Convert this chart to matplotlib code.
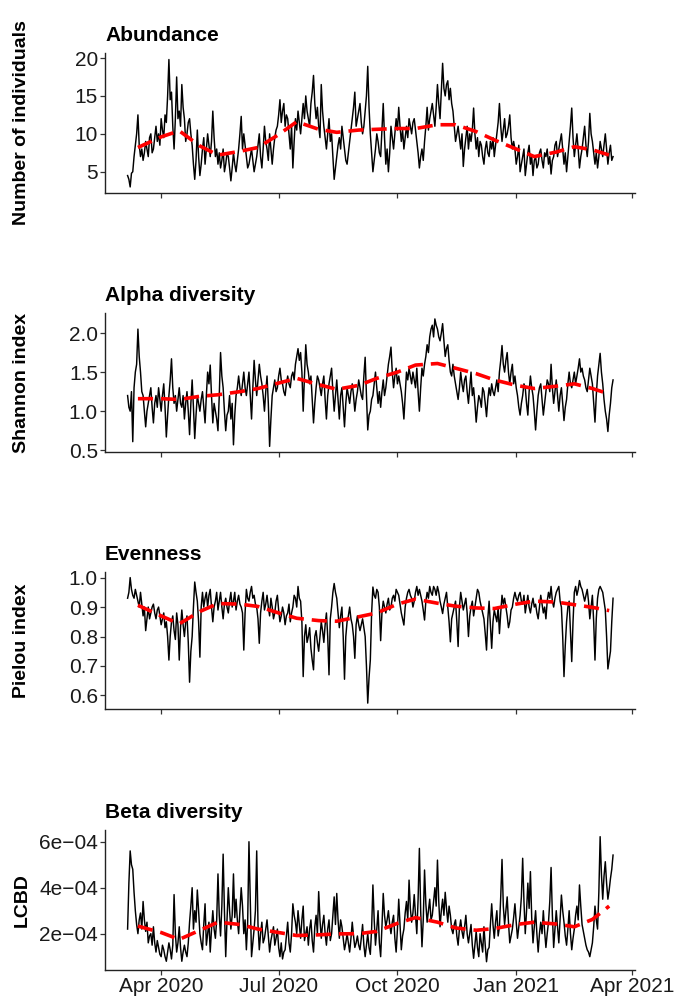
import numpy as np
import pandas as pd
import matplotlib
matplotlib.use('Agg')
import matplotlib.pyplot as plt
import matplotlib.dates as mdates
from matplotlib.ticker import FuncFormatter

plt.rcParams['font.family'] = ['Liberation Sans', 'DejaVu Sans']

###########################################################################
# 1. Data: daily values from 6 Mar 2020.
#    *_even are days 0, 2, 4, ... ; *_odd are days 1, 3, 5, ...
###########################################################################
start_date = '2020-03-06'

abundance_even = [
    4.5, 3.0, 5.0, 8.5, 12.5, 7.0, 6.5, 9.0, 7.0, 10.0,
    8.0, 11.0, 10.0, 12.0, 9.5, 11.5, 19.8, 15.5, 8.0, 17.5,
    13.0, 16.5, 12.0, 10.0, 12.0, 8.5, 4.0, 10.5, 4.5, 8.0,
    6.0, 10.0, 7.0, 13.0, 7.0, 6.0, 5.5, 8.0, 6.0, 7.0,
    3.8, 7.5, 5.0, 8.0, 12.3, 10.0, 7.0, 6.0, 8.0, 5.0,
    7.0, 10.0, 5.5, 11.0, 8.0, 10.0, 6.0, 9.5, 11.0, 14.5,
    13.0, 11.0, 12.0, 8.0, 5.5, 12.0, 13.0, 10.0, 14.0, 15.0,
    12.0, 14.0, 17.7, 12.0, 11.0, 16.5, 11.0, 8.0, 12.0, 10.0,
    4.0, 7.0, 9.5, 11.0, 8.0, 6.0, 9.0, 12.0, 15.5, 12.0,
    14.0, 10.0, 13.0, 18.9, 10.0, 5.0, 8.0, 9.0, 7.0, 14.0,
    6.0, 5.0, 11.0, 8.0, 12.0, 13.5, 9.0, 8.0, 11.0, 12.0,
    10.0, 12.0, 9.0, 5.5, 8.0, 9.0, 13.5, 12.0, 14.0, 11.0,
    16.5, 12.0, 19.3, 15.0, 17.0, 16.0, 13.0, 9.0, 11.0, 8.0,
    5.7, 9.5, 8.0, 9.0, 13.4, 8.0, 7.0, 8.5, 6.0, 9.0,
    7.0, 8.0, 7.0, 10.0, 14.0, 9.0, 12.0, 10.0, 12.5, 8.0,
    8.0, 7.0, 5.0, 7.0, 4.5, 7.5, 6.0, 4.5, 7.0, 6.0,
    8.0, 5.5, 7.0, 6.0, 4.7, 7.0, 9.0, 8.0, 10.0, 6.0,
    5.0, 9.0, 13.4, 7.0, 10.0, 5.5, 8.0, 11.0, 7.0, 12.7,
    9.0, 6.0, 5.5, 9.0, 7.0, 10.0, 6.0, 8.5, 7.0]
abundance_odd = [
    4.0, 4.8, 7.0, 10.0, 8.5, 8.0, 7.5, 8.0, 9.5, 7.5,
    9.5, 9.0, 8.5, 10.5, 12.5, 15.0, 14.5, 11.0, 12.0, 12.0,
    11.0, 13.5, 9.0, 11.5, 10.0, 6.0, 6.5, 7.0, 6.0, 9.5,
    8.0, 8.5, 9.0, 9.5, 8.0, 7.5, 6.5, 5.0, 7.5, 5.5,
    5.5, 6.0, 6.5, 10.0, 8.0, 8.5, 5.5, 7.0, 6.5, 6.0,
    8.5, 7.0, 8.0, 9.0, 6.5, 8.0, 8.0, 10.5, 12.5, 11.5,
    14.0, 12.5, 10.0, 11.0, 9.0, 10.5, 11.5, 12.0, 12.0, 13.0,
    11.0, 15.5, 14.0, 13.5, 9.5, 13.0, 9.5, 10.0, 9.0, 7.0,
    5.5, 8.5, 8.0, 9.5, 6.5, 7.5, 10.5, 13.5, 11.0, 13.0,
    11.5, 11.0, 15.0, 13.5, 7.5, 6.5, 10.0, 7.5, 10.5, 9.5,
    8.0, 7.5, 9.5, 10.0, 10.5, 11.0, 10.5, 9.5, 9.5, 11.0,
    11.5, 10.5, 7.5, 7.0, 6.5, 11.0, 10.5, 13.0, 12.5, 13.5,
    14.0, 15.5, 16.0, 16.5, 14.5, 14.0, 11.0, 10.0, 9.5, 10.0,
    8.0, 11.0, 10.0, 10.5, 10.0, 9.5, 9.0, 7.0, 8.0, 7.5,
    9.0, 9.5, 8.5, 11.5, 11.0, 10.5, 9.5, 11.0, 9.5, 9.0,
    6.0, 8.5, 6.0, 8.0, 6.0, 8.5, 7.0, 6.5, 5.5, 7.5,
    6.5, 7.5, 8.0, 7.0, 6.5, 8.5, 7.0, 9.0, 8.0, 7.5,
    7.0, 11.0, 9.5, 8.5, 8.0, 7.0, 9.5, 8.5, 9.0, 10.0,
    7.5, 7.5, 7.0, 8.0, 8.5, 8.0, 7.5, 6.5]

shannon_even = [
    1.2, 1.0, 0.61, 1.5, 2.05, 1.5, 1.2, 0.8, 1.1, 1.3,
    0.85, 1.2, 1.3, 1.0, 1.35, 0.67, 1.2, 1.67, 1.1, 1.0,
    1.3, 1.05, 0.9, 1.25, 0.7, 1.4, 0.65, 1.2, 1.0, 1.25,
    0.85, 1.5, 1.59, 0.85, 1.0, 0.75, 1.75, 1.3, 0.75, 1.0,
    0.9, 0.57, 1.2, 1.45, 1.2, 1.5, 1.2, 1.5, 0.9, 1.65,
    1.2, 1.6, 1.35, 1.0, 1.45, 0.55, 1.2, 1.4, 1.3, 1.55,
    1.35, 1.2, 1.45, 1.3, 1.5, 1.6, 1.8, 1.75, 1.0, 1.85,
    1.5, 1.45, 0.85, 1.3, 1.4, 1.2, 1.45, 0.9, 1.35, 1.55,
    1.0, 1.4, 0.9, 1.3, 0.8, 1.3, 1.1, 1.35, 1.0, 1.25,
    1.3, 1.15, 1.69, 0.76, 1.0, 1.2, 1.5, 1.1, 1.05, 1.4,
    1.3, 1.6, 1.82, 1.3, 1.55, 1.45, 1.25, 0.9, 1.5, 1.55,
    1.35, 1.4, 1.55, 1.0, 1.55, 1.6, 1.85, 1.95, 2.1, 2.18,
    2.05, 1.9, 2.12, 1.7, 1.85, 1.5, 1.6, 1.35, 1.15, 1.5,
    1.25, 1.45, 1.1, 1.5, 1.3, 0.86, 1.2, 1.05, 1.25, 0.93,
    1.3, 1.35, 1.2, 1.4, 1.5, 1.84, 1.5, 1.75, 1.35, 1.6,
    1.45, 1.2, 0.95, 1.2, 1.3, 0.95, 1.45, 1.2, 0.76, 1.2,
    1.35, 0.95, 1.25, 1.35, 1.6, 1.1, 1.4, 1.0, 1.3, 0.88,
    1.15, 1.5, 1.3, 1.5, 1.45, 1.67, 1.55, 1.4, 1.25, 1.55,
    1.35, 0.86, 1.45, 1.74, 1.35, 1.0, 0.74, 1.1, 1.4]
shannon_odd = [
    1.05, 1.25, 1.3, 1.6, 1.7, 1.25, 1.0, 1.0, 1.2, 1.05,
    1.1, 1.05, 1.15, 1.2, 1.05, 0.95, 1.4, 1.3, 1.2, 1.15,
    1.1, 1.2, 1.1, 1.0, 1.1, 1.05, 0.95, 1.1, 1.15, 1.05,
    1.2, 1.35, 1.2, 1.1, 0.9, 1.2, 1.45, 1.0, 0.95, 1.2,
    1.1, 0.95, 1.3, 1.3, 1.35, 1.3, 1.35, 1.2, 1.3, 1.4,
    1.4, 1.45, 1.2, 1.25, 1.1, 0.9, 1.3, 1.25, 1.45, 1.4,
    1.25, 1.35, 1.35, 1.45, 1.4, 1.7, 1.65, 1.5, 1.45, 1.6,
    1.35, 1.15, 1.1, 1.45, 1.3, 1.35, 1.15, 1.2, 1.45, 1.25,
    1.2, 1.15, 1.2, 1.05, 1.1, 1.2, 1.25, 1.2, 1.15, 1.4,
    1.2, 1.45, 1.2, 0.95, 1.15, 1.35, 1.3, 1.25, 1.25, 1.2,
    1.45, 1.7, 1.5, 1.45, 1.35, 1.35, 1.1, 1.2, 1.4, 1.45,
    1.5, 1.3, 1.25, 1.3, 1.45, 1.7, 1.75, 2.05, 1.95, 2.1,
    1.95, 2.0, 1.9, 1.8, 1.65, 1.45, 1.45, 1.25, 1.3, 1.35,
    1.4, 1.25, 1.3, 1.2, 1.1, 1.05, 1.15, 1.3, 1.1, 1.15,
    1.2, 1.25, 1.3, 1.25, 1.65, 1.6, 1.65, 1.5, 1.5, 1.35,
    1.3, 1.05, 1.1, 1.35, 1.1, 1.25, 1.3, 1.0, 1.0, 1.3,
    1.15, 1.1, 1.4, 1.25, 1.3, 1.25, 1.2, 1.2, 1.1, 1.05,
    1.35, 1.35, 1.4, 1.35, 1.55, 1.5, 1.45, 1.3, 1.4, 1.45,
    1.1, 1.2, 1.6, 1.5, 1.15, 0.9, 0.95, 1.3]

pielou_even = [
    0.93, 1.0, 0.94, 0.96, 0.92, 0.95, 0.87, 0.82, 0.9, 0.88,
    0.91, 0.86, 0.9, 0.84, 0.88, 0.85, 0.72, 0.85, 0.82, 0.88,
    0.72, 0.89, 0.8, 0.87, 0.645, 0.8, 0.985, 0.92, 0.73, 0.95,
    0.93, 0.9, 0.96, 0.85, 0.92, 0.89, 0.95, 0.86, 0.93, 0.88,
    0.95, 0.92, 0.89, 0.94, 0.9, 0.754, 0.96, 0.92, 0.97, 0.94,
    0.9, 0.777, 0.92, 0.89, 0.94, 0.87, 0.9, 0.88, 0.94, 0.85,
    0.9, 0.84, 0.88, 0.85, 0.9, 0.93, 0.97, 0.92, 0.664, 0.84,
    0.8, 0.76, 0.687, 0.82, 0.75, 0.85, 0.78, 0.88, 0.67, 0.9,
    0.98, 0.93, 0.83, 0.9, 0.655, 0.85, 0.9, 0.84, 0.726, 0.87,
    0.82, 0.86, 0.8, 0.574, 0.72, 0.968, 0.93, 0.95, 0.786, 0.92,
    0.88, 0.93, 0.9, 0.94, 0.96, 0.94, 0.88, 0.839, 0.93, 0.96,
    0.93, 0.92, 0.97, 0.96, 0.92, 0.856, 0.95, 0.97, 0.94, 0.96,
    0.97, 0.92, 0.878, 0.93, 0.9, 0.782, 0.88, 0.92, 0.766, 0.95,
    0.89, 0.93, 0.8, 0.9, 0.87, 0.93, 0.95, 0.9, 0.86, 0.754,
    0.92, 0.76, 0.89, 0.85, 0.81, 0.94, 0.93, 0.87, 0.85, 0.9,
    0.95, 0.92, 0.95, 0.91, 0.88, 0.94, 0.88, 0.93, 0.91, 0.86,
    0.94, 0.88, 0.86, 0.95, 0.97, 0.9, 0.95, 0.97, 0.9, 0.664,
    0.85, 0.92, 0.715, 0.95, 0.94, 0.99, 0.96, 0.92, 0.96, 0.86,
    0.94, 0.72, 0.93, 0.97, 0.95, 0.89, 0.69, 0.75, 0.93]
pielou_odd = [
    0.95, 0.96, 0.93, 0.94, 0.9, 0.91, 0.9, 0.86, 0.86, 0.9,
    0.88, 0.89, 0.87, 0.86, 0.83, 0.8, 0.8, 0.87, 0.79, 0.84,
    0.83, 0.84, 0.85, 0.78, 0.75, 0.9, 0.95, 0.85, 0.9, 0.9,
    0.95, 0.94, 0.9, 0.9, 0.95, 0.92, 0.9, 0.91, 0.9, 0.92,
    0.9, 0.95, 0.92, 0.91, 0.88, 0.88, 0.93, 0.95, 0.93, 0.91,
    0.86, 0.88, 0.95, 0.91, 0.9, 0.93, 0.86, 0.92, 0.89, 0.87,
    0.88, 0.87, 0.91, 0.88, 0.94, 0.9, 0.93, 0.85, 0.8, 0.78,
    0.83, 0.72, 0.8, 0.78, 0.8, 0.82, 0.84, 0.8, 0.86, 0.95,
    0.95, 0.88, 0.87, 0.8, 0.8, 0.87, 0.86, 0.8, 0.84, 0.84,
    0.84, 0.83, 0.7, 0.66, 0.88, 0.94, 0.96, 0.9, 0.88, 0.9,
    0.91, 0.89, 0.93, 0.92, 0.95, 0.91, 0.86, 0.9, 0.95, 0.94,
    0.9, 0.95, 0.94, 0.94, 0.89, 0.92, 0.93, 0.95, 0.97, 0.94,
    0.95, 0.9, 0.91, 0.95, 0.85, 0.86, 0.9, 0.85, 0.9, 0.92,
    0.91, 0.88, 0.87, 0.92, 0.9, 0.96, 0.92, 0.88, 0.81, 0.86,
    0.84, 0.85, 0.87, 0.9, 0.88, 0.91, 0.9, 0.83, 0.89, 0.93,
    0.93, 0.94, 0.92, 0.94, 0.91, 0.9, 0.91, 0.9, 0.88, 0.9,
    0.91, 0.9, 0.92, 0.93, 0.92, 0.93, 0.96, 0.92, 0.8, 0.77,
    0.9, 0.82, 0.85, 0.97, 0.96, 0.97, 0.94, 0.94, 0.92, 0.9,
    0.85, 0.86, 0.96, 0.96, 0.92, 0.8, 0.72, 0.85]

# LCBD in units of 1e-4
lcbd_even = [
    2.2, 5.6, 4.8, 3.0, 2.0, 2.9, 3.4, 2.1, 1.6, 2.0,
    2.3, 1.2, 1.4, 1.0, 1.3, 0.8, 1.6, 0.9, 3.7, 1.2,
    2.3, 0.8, 1.5, 1.0, 2.5, 4.0, 3.0, 3.9, 2.0, 1.3,
    3.3, 2.0, 1.2, 3.0, 1.8, 4.6, 1.9, 5.46, 1.0, 4.0,
    2.2, 4.6, 3.5, 2.0, 4.0, 2.0, 1.3, 6.0, 1.0, 2.2,
    5.6, 1.3, 2.5, 1.8, 2.6, 1.2, 2.0, 1.5, 2.2, 1.0,
    0.9, 1.3, 2.5, 1.2, 3.3, 2.5, 3.0, 1.8, 3.2, 2.0,
    1.5, 2.6, 1.2, 2.8, 3.83, 1.8, 2.8, 1.5, 2.6, 2.0,
    3.6, 3.75, 1.8, 2.3, 1.3, 2.0, 1.2, 2.5, 1.4, 1.9,
    1.3, 2.4, 1.0, 2.0, 1.1, 4.12, 1.5, 3.0, 1.0, 3.75,
    2.3, 3.0, 2.0, 2.8, 1.2, 3.5, 1.3, 2.2, 3.4, 4.33,
    2.5, 3.7, 2.0, 5.71, 1.43, 4.77, 2.5, 3.5, 2.8, 4.0,
    5.2, 2.3, 3.5, 3.8, 2.5, 2.8, 2.0, 2.6, 1.5, 2.6,
    1.8, 2.8, 1.6, 2.4, 0.93, 2.1, 1.0, 1.6, 2.3, 0.78,
    1.4, 3.3, 1.8, 3.0, 2.3, 5.23, 2.4, 3.6, 1.6, 2.2,
    3.3, 1.8, 2.8, 5.28, 2.0, 4.2, 4.7, 1.6, 3.0, 1.2,
    2.5, 3.0, 1.4, 2.5, 4.88, 1.4, 3.0, 1.6, 3.68, 2.5,
    1.5, 3.0, 1.3, 2.2, 3.2, 4.12, 2.4, 1.8, 1.3, 1.0,
    1.6, 3.2, 2.2, 6.22, 3.5, 5.13, 3.5, 4.4, 5.42]
lcbd_odd = [
    4.2, 5.0, 3.8, 2.4, 2.6, 2.2, 2.6, 2.5, 1.9, 1.5,
    1.6, 1.7, 1.1, 1.5, 1.0, 1.2, 1.3, 1.5, 2.0, 1.6,
    1.4, 1.2, 1.2, 1.6, 3.2, 2.2, 2.5, 3.0, 1.6, 2.4,
    1.5, 2.5, 2.2, 2.2, 2.6, 2.8, 3.2, 3.0, 2.6, 3.0,
    2.8, 2.7, 2.6, 3.0, 3.2, 2.6, 2.5, 3.5, 1.6, 3.0,
    2.4, 2.0, 1.6, 2.2, 1.9, 1.7, 2.3, 1.8, 1.4, 1.6,
    1.2, 1.9, 1.6, 2.0, 2.8, 2.0, 2.4, 2.6, 1.7, 2.3,
    2.2, 1.7, 2.3, 2.0, 2.6, 2.4, 2.0, 2.2, 1.7, 2.8,
    2.4, 2.6, 2.6, 1.8, 1.6, 1.6, 1.8, 1.9, 1.6, 1.5,
    1.8, 1.5, 1.5, 1.4, 2.2, 2.6, 2.2, 1.6, 2.3, 2.8,
    2.6, 2.4, 2.5, 1.8, 2.2, 2.4, 1.9, 2.9, 2.6, 3.1,
    2.9, 2.8, 3.5, 3.0, 2.6, 3.3, 3.0, 2.6, 3.4, 3.2,
    3.4, 3.0, 2.8, 3.1, 3.2, 2.2, 2.4, 1.9, 2.2, 2.1,
    2.3, 2.0, 2.0, 1.5, 1.5, 1.4, 2.0, 1.2, 1.5, 1.3,
    2.4, 2.4, 2.5, 1.9, 3.6, 3.2, 3.0, 2.5, 1.9, 2.7,
    2.5, 2.3, 3.6, 3.4, 3.0, 3.1, 2.7, 2.3, 2.0, 2.0,
    2.0, 2.1, 2.0, 3.4, 2.8, 2.2, 2.3, 2.6, 3.0, 1.9,
    2.2, 2.0, 1.8, 2.8, 2.6, 3.2, 2.1, 1.5, 1.2, 1.3,
    2.3, 2.6, 3.8, 4.6, 4.5, 4.2, 3.9, 4.8]

# smoothed trend (red dashed line), read twice a month
trend_dates = ['2020-03-14', '2020-04-01', '2020-04-15', '2020-05-01', '2020-05-15',
               '2020-06-01', '2020-06-15', '2020-07-01', '2020-07-15', '2020-08-01',
               '2020-08-15', '2020-09-01', '2020-09-15', '2020-10-01', '2020-10-15',
               '2020-11-01', '2020-11-15', '2020-12-01', '2020-12-15', '2021-01-01',
               '2021-01-15', '2021-02-01', '2021-02-15', '2021-03-01', '2021-03-14']
abundance_trend = [8.2, 9.6, 10.4, 8.4, 7.2, 7.7, 8.2, 9.9, 11.6, 10.6,
                   10.2, 10.5, 10.6, 10.7, 10.7, 11.2, 11.2, 10.3, 9.2, 8.0,
                   7.0, 7.6, 8.3, 7.9, 7.2]
shannon_trend = [1.16, 1.16, 1.15, 1.19, 1.21, 1.25, 1.29, 1.36, 1.42, 1.34,
                 1.28, 1.33, 1.42, 1.50, 1.59, 1.61, 1.55, 1.48, 1.40, 1.33,
                 1.29, 1.32, 1.35, 1.29, 1.22]
pielou_trend = [0.906, 0.87, 0.843, 0.885, 0.912, 0.91, 0.902, 0.88, 0.862, 0.854,
                0.852, 0.867, 0.88, 0.91, 0.927, 0.913, 0.903, 0.897, 0.895, 0.91,
                0.92, 0.917, 0.908, 0.899, 0.888]
lcbd_trend = [2.33, 2.05, 1.75, 2.15, 2.5, 2.4, 2.2, 2.05, 1.92, 1.95,
              1.99, 2.0, 2.1, 2.45, 2.7, 2.5, 2.25, 2.15, 2.22, 2.4,
              2.5, 2.42, 2.3, 2.62, 3.2]

titles = ['Abundance', 'Alpha diversity', 'Evenness', 'Beta diversity']
ylabels = ['Number of individuals', 'Shannon index', 'Pielou index', 'LCBD']
tick_dates = ['2020-04-01', '2020-07-01', '2020-10-01', '2021-01-01', '2021-04-01']


def daily_series(even, odd, scale=1.0):
    # put the even and odd day readings back into one daily series
    d_even = pd.date_range(start_date, periods=len(even), freq='2D')
    d_odd = d_even[:len(odd)] + pd.Timedelta(days=1)
    s = pd.concat([pd.Series(even, index=d_even), pd.Series(odd, index=d_odd)])
    return s.sort_index() * scale


def lcbd_fmt(v, pos):
    return '{:.0f}e\u221204'.format(v * 1e4)


def main():
    tdates = pd.to_datetime(trend_dates)
    series = [daily_series(abundance_even, abundance_odd),
              daily_series(shannon_even, shannon_odd),
              daily_series(pielou_even, pielou_odd),
              daily_series(lcbd_even, lcbd_odd, 1e-4)]
    trends = [np.array(abundance_trend), np.array(shannon_trend),
              np.array(pielou_trend), np.array(lcbd_trend) * 1e-4]
    ylims = [(2.2, 20.66), (0.478, 2.256), (0.554, 1.019), (0.42e-4, 6.51e-4)]
    yticks = [[5, 10, 15, 20], [0.5, 1.0, 1.5, 2.0],
              [0.6, 0.7, 0.8, 0.9, 1.0], [2e-4, 4e-4, 6e-4]]
    # axes boxes in pixels (top, bottom) of the 675x996 canvas
    boxes = [(53, 193), (313, 452), (572, 709), (830, 970)]

    fig = plt.figure(figsize=(6.75, 9.96), dpi=100)
    W, H = 675.0, 996.0
    for k in range(4):
        top, bot = boxes[k]
        ax = fig.add_axes([105 / W, 1 - bot / H, 530 / W, (bot - top) / H])
        s = series[k]
        ax.plot(s.index, s.values, color='black', lw=1.05)
        ax.plot(tdates, trends[k], color='#ff0000', lw=2.6, dashes=(4.2, 2.2))

        ax.set_xlim(pd.Timestamp('2020-02-17 12:00'), pd.Timestamp('2021-04-03'))
        ax.set_ylim(ylims[k])
        ax.set_yticks(yticks[k])
        ax.set_xticks(pd.to_datetime(tick_dates))
        ax.xaxis.set_major_formatter(mdates.DateFormatter('%b %Y'))
        if k == 3:
            ax.yaxis.set_major_formatter(FuncFormatter(lcbd_fmt))
        elif k in (1, 2):
            ax.yaxis.set_major_formatter(FuncFormatter(lambda v, p: '{:.1f}'.format(v)))

        for side in ['top', 'right']:
            ax.spines[side].set_visible(False)
        for side in ['left', 'bottom']:
            ax.spines[side].set_linewidth(1.0)
            ax.spines[side].set_color('#222222')
        ax.tick_params(axis='both', length=3.6, width=0.9, color='#333333',
                       labelsize=15, labelcolor='#1a1a1a', pad=1.5)
        ax.tick_params(axis='x', labelbottom=(k == 3))

        ax.set_title(titles[k], loc='left', fontsize=15, fontweight='bold', pad=8.5)
        fig.text(22 / W, 1 - (top + bot) / 2 / H, ylabels[k], rotation=90,
                 ha='center', va='center', fontsize=14, fontweight='bold')

    plt.savefig('out.png', dpi=100)


if __name__ == "__main__":
    main()
